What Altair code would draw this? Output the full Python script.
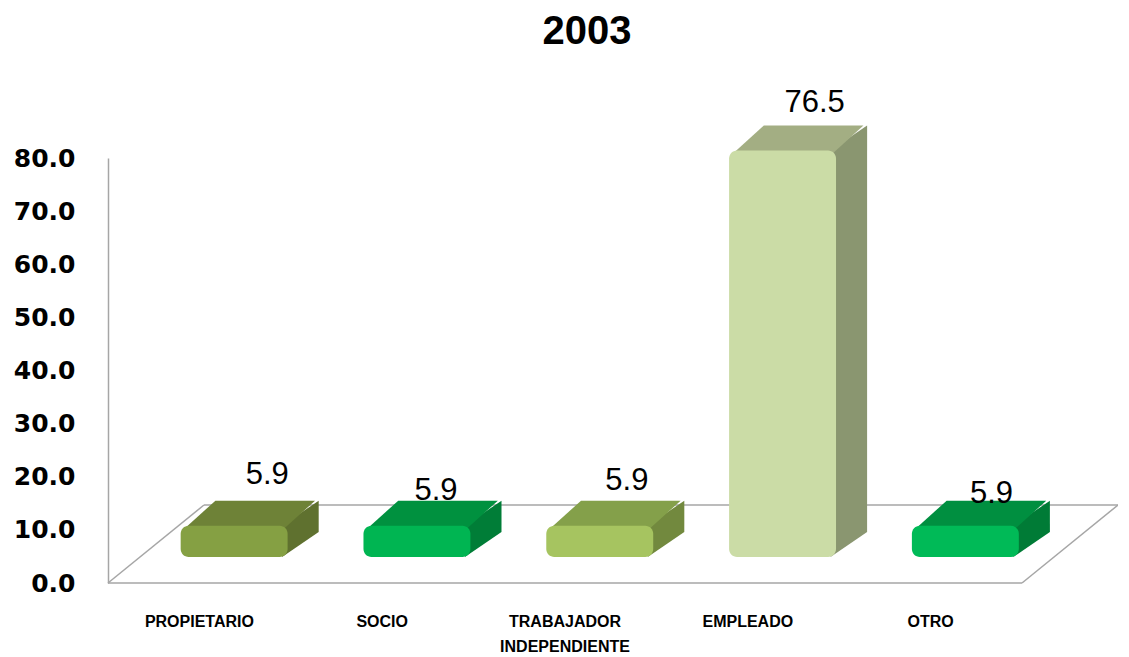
import altair as alt
import pandas as pd

# ---- data ----
categories = ["PROPIETARIO", "SOCIO", "TRABAJADOR\nINDEPENDIENTE", "EMPLEADO", "OTRO"]
values = [5.9, 5.9, 5.9, 76.5, 5.9]
value_labels = ["5.9", "5.9", "5.9", "76.5", "5.9"]
title_text = "2003"

# ---- styles ----
front_colors = ["#85a043", "#00b552", "#a6c460", "#cbdca6", "#00ba57"]
top_colors = ["#6e8237", "#00913f", "#84a04a", "#a3ae83", "#008f40"]
side_colors = ["#5f712f", "#007d37", "#72893e", "#8a9670", "#007b36"]
label_nudge_x = [2, -12, -4, 1, -5]     # px, as placed in the original
label_nudge_y = [-4, 12, 2, -1, 15]     # px, as placed in the original

# pseudo-3D geometry (in slot / value units)
CENTER = 0.69      # front-face centre inside a slot
HALF = 0.2925      # front-face half width
SX = 0.17          # bar depth along x
SY = 4.7           # bar depth along y
BASE = 4.9         # front face lifted from the floor front edge
FLOOR_X = 0.525    # floor depth along x
FLOOR_Y = 14.68    # floor depth along y
N = len(categories)
WIDTH, HEIGHT = 1010, 425
YMAX = 80
PX_X = (N + FLOOR_X) / WIDTH   # slot units per pixel
PX_Y = YMAX / HEIGHT           # value units per pixel

rows_front, rows_poly, rows_lab, rows_cat = [], [], [], []
for i, (c, v) in enumerate(zip(categories, values)):
    xl = i + CENTER - HALF
    xr = i + CENTER + HALF
    y0 = BASE
    T = v + BASE
    rows_front.append(dict(cat=c, x=xl, x2=xr, y=y0, y2=T, col=front_colors[i]))
    # side face (parallelogram)
    f = f"side{i}"
    rows_poly += [
        dict(face=f, x=xr - 0.03, y=y0, y2=T, col=side_colors[i]),
        dict(face=f, x=xr + SX, y=y0 + SY, y2=T + SY, col=side_colors[i]),
    ]
    # top face (parallelogram)
    f = f"top{i}"
    rows_poly += [
        dict(face=f, x=xl + 0.02, y=T - 0.6, y2=T - 0.6, col=top_colors[i]),
        dict(face=f, x=xl + 0.02 + SX, y=T - 0.6, y2=T + SY, col=top_colors[i]),
        dict(face=f, x=xr - 0.02, y=T - 0.6, y2=T + SY, col=top_colors[i]),
        dict(face=f, x=xr - 0.02 + SX, y=T + SY, y2=T + SY, col=top_colors[i]),
    ]
    rows_lab.append(dict(x=i + 0.86 + label_nudge_x[i] * PX_X,
                         y=T + SY + (22 - label_nudge_y[i]) * PX_Y,
                         t=value_labels[i]))
    rows_cat.append(dict(x=i + 0.5, y=0, t=c))

front = pd.DataFrame(rows_front)
poly = pd.DataFrame(rows_poly)
labs = pd.DataFrame(rows_lab)
cats = pd.DataFrame(rows_cat)
floor = pd.DataFrame([
    dict(x=0, y=0, x2=N, y2=0),
    dict(x=N, y=0, x2=N + FLOOR_X, y2=FLOOR_Y),
    dict(x=FLOOR_X, y=FLOOR_Y, x2=N + FLOOR_X, y2=FLOOR_Y),
    dict(x=0, y=0, x2=FLOOR_X, y2=FLOOR_Y),
])

xs = alt.Scale(domain=[0, N + FLOOR_X], nice=False, zero=False)
ys = alt.Scale(domain=[0, YMAX], nice=False)
yaxis = alt.Axis(values=[0, 10, 20, 30, 40, 50, 60, 70, 80], format=".1f", grid=False,
                 ticks=False, labelPadding=33, domainColor="#a6a6a6", domainWidth=1.5,
                 labelFont="DejaVu Sans", labelFontWeight="bold", labelFontSize=25,
                 labelColor="#000000", title=None)

floor_l = alt.Chart(floor).mark_rule(color="#a6a6a6", strokeWidth=1.5).encode(
    x=alt.X("x:Q", scale=xs, axis=None), x2="x2:Q",
    y=alt.Y("y:Q", scale=ys, axis=yaxis), y2="y2:Q")

faces = alt.Chart(poly).mark_area().encode(
    x=alt.X("x:Q", scale=xs, axis=None),
    y=alt.Y("y:Q", scale=ys, axis=yaxis, stack=None), y2="y2:Q",
    detail="face:N",
    color=alt.Color("col:N", scale=None))

fronts = alt.Chart(front).mark_bar(cornerRadius=8).encode(
    x=alt.X("x:Q", scale=xs, axis=None), x2="x2:Q",
    y=alt.Y("y:Q", scale=ys, axis=yaxis), y2="y2:Q",
    color=alt.Color("col:N", scale=None))

vlabels = alt.Chart(labs).mark_text(font="Liberation Sans", fontSize=31, color="#000000",
                                    baseline="middle").encode(
    x=alt.X("x:Q", scale=xs, axis=None),
    y=alt.Y("y:Q", scale=ys, axis=yaxis), text="t:N")

clabels = alt.Chart(cats).mark_text(font="Liberation Sans", fontWeight="bold", fontSize=16,
                                    color="#000000", baseline="top", dy=31, lineBreak="\n",
                                    lineHeight=25).encode(
    x=alt.X("x:Q", scale=xs, axis=None),
    y=alt.Y("y:Q", scale=ys, axis=yaxis), text="t:N")

chart = alt.layer(floor_l, faces, fronts, vlabels, clabels).properties(
    width=WIDTH, height=HEIGHT,
    background="#ffffff",
    title=alt.TitleParams(title_text, font="Liberation Sans", fontWeight="bold", fontSize=40,
                          color="#000000", anchor="middle", dx=-26, offset=35),
    padding={"left": 100, "top": 150, "right": 0, "bottom": 72},
    autosize=alt.AutoSizeParams(type="none"),
).configure_view(stroke=None)

chart.save("out.html", embed_options={"renderer": "svg", "actions": False})
